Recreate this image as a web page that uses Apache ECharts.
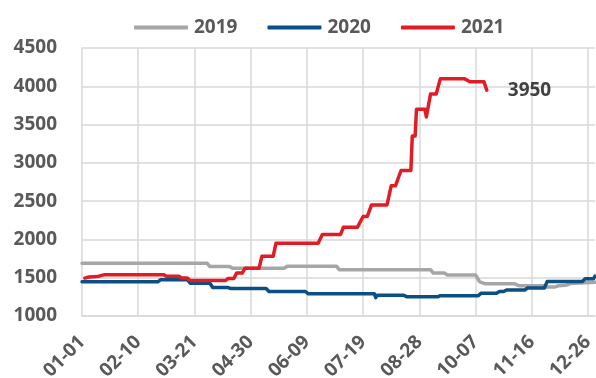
<!DOCTYPE html>
<html>
<head>
<meta charset="utf-8">
<script src="https://cdn.jsdelivr.net/npm/echarts@6.0.0/dist/echarts.min.js"></script>
<style>
  html, body { margin: 0; padding: 0; background: #ffffff; }
  #chart { width: 596px; height: 378px; }
</style>
</head>
<body>
<div id="chart"></div>
<script>
// Daily price levels; each series is listed as [date, price] points where the level changes.
const legendNames = ['2019', '2020', '2021'];

const series2019 = [
  ['01-01', 1690], ['03-30', 1690], ['04-01', 1645], ['04-15', 1645], ['04-17', 1625],
  ['05-24', 1625], ['05-26', 1650], ['06-30', 1650], ['07-02', 1605], ['09-05', 1605],
  ['09-07', 1560], ['09-15', 1560], ['09-17', 1535], ['10-07', 1535], ['10-10', 1445],
  ['10-14', 1420], ['11-04', 1420], ['11-07', 1395], ['11-24', 1395], ['11-27', 1378],
  ['12-02', 1378], ['12-05', 1395], ['12-10', 1400], ['12-14', 1425], ['12-20', 1430],
  ['12-31', 1440]
];

const series2020 = [
  ['01-01', 1447], ['02-24', 1447], ['02-26', 1475], ['03-16', 1475], ['03-18', 1428],
  ['04-01', 1428], ['04-03', 1372], ['04-14', 1372], ['04-16', 1358], ['05-11', 1358],
  ['05-13', 1320], ['06-08', 1320], ['06-10', 1289], ['07-27', 1289], ['07-28', 1240],
  ['07-29', 1272], ['08-17', 1272], ['08-19', 1250], ['09-10', 1250], ['09-12', 1266],
  ['10-09', 1266], ['10-11', 1298], ['10-22', 1298], ['10-24', 1320], ['10-27', 1320],
  ['10-29', 1340], ['11-11', 1340], ['11-13', 1366], ['11-25', 1366], ['11-27', 1450],
  ['12-22', 1450], ['12-24', 1486], ['12-30', 1486], ['12-31', 1520]
];

const series2021 = [
  ['01-03', 1495], ['01-06', 1510], ['01-12', 1515], ['01-17', 1540], ['02-28', 1540],
  ['03-01', 1520], ['03-10', 1520], ['03-12', 1495], ['03-16', 1495], ['03-18', 1462],
  ['04-12', 1462], ['04-14', 1490], ['04-18', 1490], ['04-20', 1560], ['04-24', 1560],
  ['04-26', 1625], ['05-06', 1625], ['05-08', 1780], ['05-16', 1780], ['05-18', 1950],
  ['06-17', 1950], ['06-20', 2065], ['07-03', 2065], ['07-05', 2160], ['07-15', 2160],
  ['07-19', 2300], ['07-22', 2300], ['07-25', 2450], ['08-05', 2450], ['08-08', 2700],
  ['08-11', 2700], ['08-15', 2900], ['08-22', 2900], ['08-23', 3350], ['08-25', 3350],
  ['08-26', 3700], ['09-01', 3700], ['09-02', 3600], ['09-05', 3900], ['09-09', 3900],
  ['09-12', 4100], ['09-29', 4100], ['10-03', 4060], ['10-13', 4060], ['10-15', 3950]
];

const yTicks = { min: 1000, max: 4500, step: 500 };
const tickEveryDays = 40;

// Calendar of month-day categories (a leap-year calendar, 366 days).
const days = [];
for (let d = 0; d < 366; d++) {
  const dt = new Date(Date.UTC(2020, 0, 1 + d));
  const mm = String(dt.getUTCMonth() + 1).padStart(2, '0');
  const dd = String(dt.getUTCDate()).padStart(2, '0');
  days.push(mm + '-' + dd);
}

const FONT = '"Open Sans", "Noto Sans", sans-serif';
const TEXT = '#595959';
const GRID = '#d9d9d9';
const colors = ['#a6a6a6', '#0c4f84', '#e21b24'];

const chart = echarts.init(document.getElementById('chart'), null, { renderer: 'canvas' });

const lineSeries = [series2019, series2020, series2021].map((data, i) => ({
  name: legendNames[i],
  type: 'line',
  data: data,
  showSymbol: false,
  symbol: 'none',
  lineStyle: { width: 3.5, color: colors[i], cap: 'round', join: 'round' },
  itemStyle: { color: colors[i] },
  z: 2 + i
}));

lineSeries[2].endLabel = {
  show: true,
  formatter: p => String(p.value[1]),
  distance: 21,
  fontFamily: FONT,
  fontWeight: 'bold',
  fontSize: 19,
  color: '#404040'
};

chart.setOption({
  animation: false,
  backgroundColor: '#ffffff',
  color: colors,
  legend: {
    data: legendNames,
    left: 129,
    top: 13,
    itemWidth: 54,
    itemHeight: 4,
    itemGap: 30,
    icon: 'roundRect',
    textStyle: { fontFamily: FONT, fontWeight: 'bold', fontSize: 19, color: TEXT, padding: [0, 0, 0, 1] }
  },
  grid: { left: 82, right: 1, top: 48, bottom: 62, containLabel: false, outerBoundsMode: 'none' },
  xAxis: {
    type: 'category',
    data: days,
    boundaryGap: false,
    axisLine: { show: true, lineStyle: { color: GRID, width: 1.5 } },
    axisTick: { show: false },
    axisLabel: {
      interval: tickEveryDays - 1,
      rotate: 45,
      margin: 23,
      fontFamily: FONT,
      fontWeight: 'bold',
      fontSize: 19,
      color: TEXT
    },
    splitLine: {
      show: true,
      interval: tickEveryDays - 1,
      lineStyle: { color: GRID, width: 1.5 }
    }
  },
  yAxis: {
    type: 'value',
    min: yTicks.min,
    max: yTicks.max,
    interval: yTicks.step,
    axisLine: { show: false },
    axisTick: { show: false },
    axisLabel: {
      margin: 25,
      formatter: v => String(v),
      fontFamily: FONT,
      fontWeight: 'bold',
      fontSize: 19,
      color: TEXT
    },
    splitLine: { show: true, lineStyle: { color: GRID, width: 1.5 } }
  },
  series: lineSeries
});
</script>
</body>
</html>
